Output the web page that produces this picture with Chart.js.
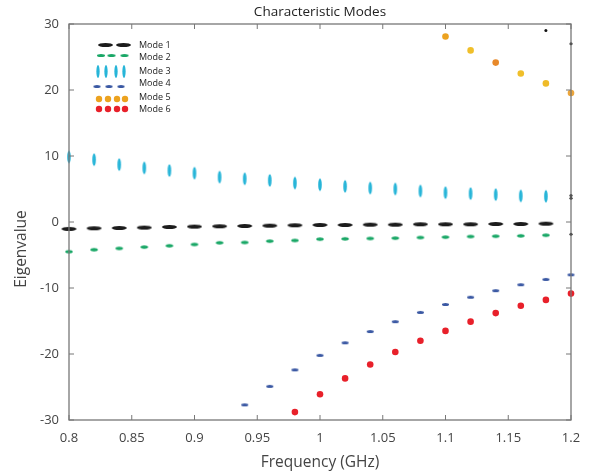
<!DOCTYPE html>
<html>
<head>
<meta charset="utf-8">
<script src="https://cdn.jsdelivr.net/npm/chart.js@4"></script>
<style>
  html, body { margin: 0; padding: 0; background: #fff; }
  #wrap { width: 597px; height: 475px; }
</style>
</head>
<body>
<div id="wrap"><canvas id="myChart" width="597" height="475"></canvas></div>
<script>
// frequency points (GHz)
var freqs = [0.8, 0.82, 0.84, 0.86, 0.88, 0.9, 0.92, 0.94, 0.96, 0.98, 1.0,
             1.02, 1.04, 1.06, 1.08, 1.1, 1.12, 1.14, 1.16, 1.18, 1.2];

var mode1 = [-1.05, -0.95, -0.9, -0.85, -0.75, -0.7, -0.65, -0.6, -0.55, -0.5, -0.45,
             -0.45, -0.4, -0.4, -0.35, -0.35, -0.35, -0.3, -0.3, -0.25, null];
var mode2 = [-4.5, -4.2, -4.0, -3.8, -3.6, -3.4, -3.15, -3.1, -2.9, -2.8, -2.6,
             -2.55, -2.5, -2.45, -2.35, -2.3, -2.2, -2.15, -2.1, -2.0, null];
var mode3 = [9.85, 9.45, 8.7, 8.2, 7.8, 7.4, 6.8, 6.55, 6.3, 5.9, 5.65,
             5.4, 5.15, 5.0, 4.7, 4.45, 4.3, 4.15, 3.95, 3.9, null];
var mode4 = [null, null, null, null, null, null, null, -27.7, -24.9, -22.4, -20.2,
             -18.3, -16.6, -15.1, -13.7, -12.5, -11.4, -10.4, -9.5, -8.7, -8.0];
var mode5 = [null, null, null, null, null, null, null, null, null, null, null,
             null, null, null, null, 28.1, 26.0, 24.15, 22.5, 21.0, 19.55];
var mode6 = [null, null, null, null, null, null, null, null, null, -28.8, -26.1,
             -23.7, -21.6, -19.7, -18.0, -16.5, -15.1, -13.8, -12.7, -11.8, -10.85];

// a few stray black points near the right edge
var strayX = [1.18, 1.2, 1.2, 1.2, 1.2];
var strayY = [29.0, 27.0, 4.0, 3.6, -1.85];

var modeNames = ['Mode 1', 'Mode 2', 'Mode 3', 'Mode 4', 'Mode 5', 'Mode 6'];
var xTicks = [0.8, 0.85, 0.9, 0.95, 1.0, 1.05, 1.1, 1.15, 1.2];
var yTicks = [-30, -20, -10, 0, 10, 20, 30];

var mode5Colors = ['#eca21f', '#f0bf2a', '#e8892a', '#f0bf2a', '#efbb28', '#eca53a'];

function pts(vals) {
    var out = [];
    for (var i = 0; i < freqs.length; i++) {
        if (vals[i] !== null) out.push({x: freqs[i], y: vals[i]});
    }
    return out;
}

// small filled ellipse used as a marker
function ellipse(w, h, color) {
    var c = document.createElement('canvas');
    c.width = Math.ceil(w) + 2;
    c.height = Math.ceil(h) + 2;
    var g = c.getContext('2d');
    g.fillStyle = color;
    g.beginPath();
    g.ellipse(c.width / 2, c.height / 2, w / 2, h / 2, 0, 0, Math.PI * 2);
    g.fill();
    return c;
}

var m1 = ellipse(15, 4, '#1c1c1c');
var m2 = ellipse(7.5, 3.4, '#19a766');
var m3 = ellipse(3.6, 12.5, '#27b5d8');
var m4 = ellipse(7, 3, '#3a58a3');

var legendItems = [
    {img: ellipse(15, 4, '#1c1c1c'), xs: [105.5, 123.5], my: 45, ty: 45},
    {img: ellipse(8, 3, '#19a766'), xs: [101, 111.5, 124.5], my: 55.5, ty: 57.5},
    {img: ellipse(3.3, 13, '#27b5d8'), xs: [98, 106, 116, 124], my: 71.5, ty: 71.5},
    {img: m4, xs: [97, 109, 121], my: 86.5, ty: 83.5},
    {color: '#eca21f', xs: [99, 108, 117, 125], my: 99, ty: 97.5},
    {color: '#e8202a', xs: [99, 108, 117, 125], my: 109, ty: 109.5}
];

var FONT = '"Open Sans", "Liberation Sans", sans-serif';

var framePlugin = {
    id: 'frame',
    afterDraw: function(chart) {
        var ctx = chart.ctx;
        var a = chart.chartArea;
        var xs = chart.scales.x, ys = chart.scales.y;
        ctx.save();
        ctx.strokeStyle = '#777';
        ctx.lineWidth = 1.3;
        ctx.strokeRect(a.left, a.top, a.right - a.left, a.bottom - a.top);
        ctx.lineWidth = 1;
        ctx.beginPath();
        xTicks.forEach(function(v) {
            var px = xs.getPixelForValue(v);
            ctx.moveTo(px, a.bottom); ctx.lineTo(px, a.bottom - 5);
            ctx.moveTo(px, a.top); ctx.lineTo(px, a.top + 5);
        });
        yTicks.forEach(function(v) {
            var py = ys.getPixelForValue(v);
            ctx.moveTo(a.left, py); ctx.lineTo(a.left + 5, py);
            ctx.moveTo(a.right, py); ctx.lineTo(a.right - 5, py);
        });
        ctx.stroke();

        // titles
        ctx.fillStyle = '#222';
        ctx.textAlign = 'center';
        ctx.textBaseline = 'middle';
        ctx.font = '13.5px ' + FONT;
        ctx.fillText('Characteristic Modes', (a.left + a.right) / 2, 12);
        ctx.fillStyle = '#444';
        ctx.font = '15.5px ' + FONT;
        ctx.fillText('Frequency (GHz)', (a.left + a.right) / 2, 463);
        ctx.save();
        ctx.translate(22, 249);
        ctx.rotate(-Math.PI / 2);
        ctx.fillText('Eigenvalue', 0, 0);
        ctx.restore();

        // legend
        ctx.font = '9px ' + FONT;
        ctx.textAlign = 'left';
        legendItems.forEach(function(it, i) {
            it.xs.forEach(function(x) {
                if (it.img) {
                    ctx.drawImage(it.img, x - it.img.width / 2, it.my - it.img.height / 2);
                } else {
                    ctx.fillStyle = it.color;
                    ctx.beginPath();
                    ctx.arc(x, it.my, 3.2, 0, Math.PI * 2);
                    ctx.fill();
                }
            });
            ctx.fillStyle = '#222';
            ctx.fillText(modeNames[i], 139, it.ty);
        });
        ctx.restore();
    }
};

var ctx = document.getElementById('myChart').getContext('2d');
var myChart = new Chart(ctx, {
    type: 'scatter',
    data: {
        datasets: [
            {label: modeNames[0], data: pts(mode1), pointStyle: m1, clip: false},
            {label: modeNames[1], data: pts(mode2), pointStyle: m2, clip: false},
            {label: modeNames[2], data: pts(mode3), pointStyle: m3, clip: false},
            {label: modeNames[3], data: pts(mode4), pointStyle: m4, clip: false},
            {label: modeNames[4], data: pts(mode5), pointStyle: 'circle', pointRadius: 3.3,
             backgroundColor: mode5Colors, borderWidth: 0, clip: false},
            {label: modeNames[5], data: pts(mode6), pointStyle: 'circle', pointRadius: 3.3,
             backgroundColor: '#e8202a', borderWidth: 0, clip: false},
            {label: 'extra', data: strayX.map(function(x, i) { return {x: x, y: strayY[i]}; }),
             pointStyle: 'circle', pointRadius: 1.5, backgroundColor: '#111', borderWidth: 0, clip: false}
        ]
    },
    options: {
        responsive: false,
        animation: false,
        layout: { padding: { top: 24, right: 26, left: 0, bottom: 0 } },
        plugins: {
            legend: { display: false },
            title: { display: false },
            tooltip: { enabled: false }
        },
        scales: {
            x: {
                type: 'linear',
                min: 0.8, max: 1.2,
                afterBuildTicks: function(s) { s.ticks = xTicks.map(function(v) { return {value: v}; }); },
                afterFit: function(s) { s.height = 55; },
                grid: { display: false, drawTicks: false },
                border: { display: false },
                ticks: {
                    padding: 10,
                    color: '#444',
                    font: { family: FONT, size: 13 },
                    maxRotation: 0,
                    callback: function(v) { return String(+v.toFixed(2)); }
                }
            },
            y: {
                min: -30, max: 30,
                afterBuildTicks: function(s) { s.ticks = yTicks.map(function(v) { return {value: v}; }); },
                afterFit: function(s) { s.width = 69; },
                grid: { display: false, drawTicks: false },
                border: { display: false },
                ticks: {
                    padding: 10,
                    color: '#444',
                    font: { family: FONT, size: 13 }
                }
            }
        }
    },
    plugins: [framePlugin]
});
</script>
</body>
</html>
